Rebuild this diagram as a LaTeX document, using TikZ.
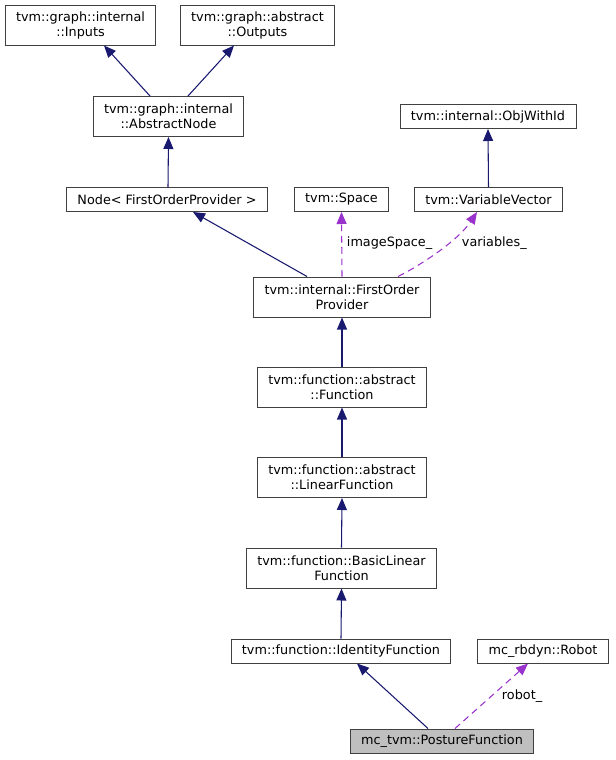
\documentclass[tikz,border=0pt]{standalone}
\usepackage{fontspec}
\setmainfont{DejaVu Sans}
\usetikzlibrary{arrows.meta,calc}
\definecolor{inh}{HTML}{191970}
\definecolor{use}{HTML}{9A32CD}
\definecolor{bord}{HTML}{404040}
\begin{document}
\begin{tikzpicture}[x=0.75pt,y=-0.75pt,
  every node/.style={font=\fontsize{9.6pt}{11.25pt}\selectfont},
  cls/.style={draw=bord,line width=0.75pt,fill=white,inner xsep=8.2pt,inner ysep=0pt,align=center},
  one/.style={cls,minimum height=18pt},
  two/.style={cls,minimum height=30pt},
  cur/.style={fill=black!25},
  inher/.style={draw=inh,line width=0.8pt,-{Triangle[length=9pt,width=7.5pt]}},
  usage/.style={draw=use,line width=0.8pt,dashed,dash pattern=on 5pt off 3.5pt,-{Triangle[length=9pt,width=7.5pt,fill=use]}},
  lbl/.style={anchor=west,inner sep=0pt}]
\useasboundingbox (0,0) rectangle (615,760);

\node[two] (inputs) at (80.5,25) {tvm::graph::internal\\::Inputs};
\node[two] (outputs) at (257.5,25) {tvm::graph::abstract\\::Outputs};
\node[two] (absnode) at (168.5,116.5) {tvm::graph::internal\\::AbstractNode};
\node[one] (objid) at (488,116.5) {tvm::internal::ObjWithId};
\node[one] (nodefop) at (167,199.5) {Node< FirstOrderProvider >};
\node[one] (space) at (341.5,199.5) {tvm::Space};
\node[one] (varvec) at (488.5,199.5) {tvm::VariableVector};
\node[two] (fop) at (342,297) {tvm::internal::FirstOrder\\Provider};
\node[two] (func) at (342,387) {tvm::function::abstract\\::Function};
\node[two] (linfunc) at (342,477.5) {tvm::function::abstract\\::LinearFunction};
\node[two] (basiclin) at (341.5,568) {tvm::function::BasicLinear\\Function};
\node[one] (identity) at (341,651) {tvm::function::IdentityFunction};
\node[one] (robot) at (543,651) {mc\_rbdyn::Robot};
\node[one,cur] (posture) at (442,741) {mc\_tvm::PostureFunction};

\draw[inher] ($(absnode.north)+(-18.5,0)$) -- ($(inputs.south)+(23.5,0)$);
\draw[inher] ($(absnode.north)+(19.5,0)$) -- ($(outputs.south)+(-23.5,0)$);
\draw[inher] ($(nodefop.north)+(1,0)$) -- (absnode.south);
\draw[inher] (varvec.north) -- (objid.south);
\draw[inher] ($(fop.north)+(-35,0)$) -- ($(nodefop.south)+(26,0)$);
\draw[usage] (fop.north) -- (space.south);
\draw[usage] ($(fop.north)+(56,0)$) .. controls ($(fop.north)+(80,-12)$) and ($(varvec.south)+(-30,28)$) .. ($(varvec.south)+(-11.5,0)$);
\draw[inher] (func.north) -- (fop.south);
\draw[inher] (linfunc.north) -- (func.south);
\draw[inher] (basiclin.north) -- (linfunc.south);
\draw[inher] (identity.north) -- (basiclin.south);
\draw[inher] ($(posture.north)+(-14,0)$) -- ($(identity.south)+(16,0)$);
\draw[usage] ($(posture.north)+(13,0)$) -- ($(robot.south)+(-15,0)$);

\node[lbl] (lspace) at (346.7,243) {imageSpace\_};
\node[lbl] (lvar) at (461.7,243) {variables\_};
\node[lbl] (lrobot) at (501.7,695.7) {robot\_};
\end{tikzpicture}
\end{document}
